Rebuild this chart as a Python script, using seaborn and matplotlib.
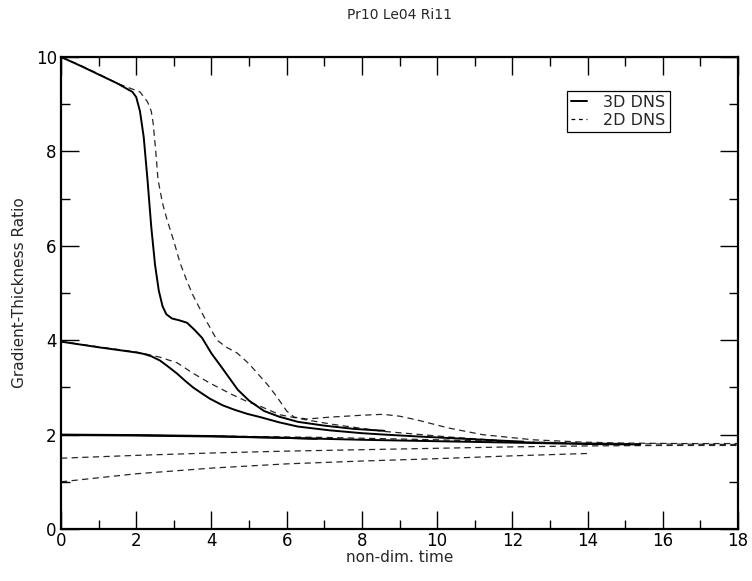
import pandas as pd
import seaborn as sns
import matplotlib
matplotlib.use('Agg')
import matplotlib.pyplot as plt
from matplotlib.lines import Line2D
from matplotlib.ticker import MultipleLocator

# 3D DNS runs (solid)
t_3d_a = [0, 0.5, 1.0, 1.5, 1.9, 2.0, 2.1, 2.2, 2.3, 2.4, 2.5, 2.6, 2.7, 2.8, 2.95, 3.15,
          3.35, 3.55, 3.75, 4.0, 4.25, 4.7, 5.0, 5.4, 5.8, 6.3, 7.0, 7.8, 8.6]
v_3d_a = [10, 9.82, 9.63, 9.44, 9.26, 9.15, 8.85, 8.3, 7.4, 6.4, 5.6, 5.05, 4.72, 4.55, 4.46, 4.42,
          4.37, 4.22, 4.05, 3.72, 3.45, 2.95, 2.72, 2.5, 2.38, 2.27, 2.19, 2.12, 2.08]
t_3d_b = [0, 1, 2, 2.2, 2.4, 2.63, 2.85, 3.09, 3.3, 3.51, 3.75, 3.96, 4.3, 4.6, 4.95, 5.3,
          5.8, 6.3, 7.15, 8.0, 8.6, 9.5, 10.5, 11.5, 12.3]
v_3d_b = [3.97, 3.85, 3.74, 3.71, 3.66, 3.57, 3.44, 3.29, 3.14, 3.0, 2.87, 2.76, 2.62, 2.53, 2.44, 2.37,
          2.26, 2.17, 2.09, 2.03, 2.0, 1.96, 1.92, 1.88, 1.85]
t_3d_c = [0, 2, 4, 6, 8, 10, 12, 14, 15.4]
v_3d_c = [2.0, 1.99, 1.97, 1.93, 1.89, 1.86, 1.83, 1.8, 1.79]
t_3d_d = [0, 2, 4, 6, 6.8]
v_3d_d = [1.99, 1.98, 1.96, 1.93, 1.91]

# 2D DNS runs (dashed)
t_2d_a = [0, 0.5, 1.0, 1.5, 2.1, 2.3, 2.4, 2.45, 2.52, 2.58, 2.7, 2.82, 3.0, 3.16, 3.35, 3.51,
          3.8, 4.15, 4.4, 4.68, 5.0, 5.21, 5.5, 5.74, 6.0, 6.2, 6.54, 7.15, 8.0, 8.56, 9.0,
          9.47, 10.3, 11.2, 12.55, 13.9, 15, 16.5, 18]
v_2d_a = [10, 9.83, 9.64, 9.44, 9.26, 9.05, 8.85, 8.6, 8.0, 7.4, 6.9, 6.55, 6.1, 5.65, 5.25, 4.95,
          4.5, 4.0, 3.85, 3.73, 3.5, 3.31, 3.05, 2.8, 2.5, 2.37, 2.33, 2.37, 2.41, 2.43, 2.39,
          2.31, 2.14, 2.0, 1.89, 1.84, 1.82, 1.81, 1.81]
t_2d_b = [0, 1, 2, 2.3, 2.63, 3.09, 3.51, 3.96, 4.57, 4.95, 5.3, 5.82, 6.54, 7.2, 8.56, 10.3,
          12.1, 13.5, 15]
v_2d_b = [3.97, 3.86, 3.75, 3.7, 3.64, 3.52, 3.3, 3.09, 2.84, 2.7, 2.6, 2.42, 2.31, 2.22, 2.07, 1.95,
          1.85, 1.82, 1.8]
t_2d_c = [0, 4, 7, 10, 12, 14, 16, 18]
v_2d_c = [2.0, 1.97, 1.94, 1.89, 1.85, 1.82, 1.8, 1.79]
t_2d_d = [0, 2, 4, 6, 8, 10, 12, 14, 16, 18]
v_2d_d = [1.5, 1.56, 1.61, 1.65, 1.68, 1.71, 1.74, 1.76, 1.77, 1.77]
t_2d_e = [0, 2, 4, 6, 8, 10, 12, 14]
v_2d_e = [1.0, 1.17, 1.29, 1.38, 1.44, 1.49, 1.55, 1.6]

runs_3d = [(t_3d_a, v_3d_a), (t_3d_b, v_3d_b), (t_3d_c, v_3d_c), (t_3d_d, v_3d_d)]
runs_2d = [(t_2d_a, v_2d_a), (t_2d_b, v_2d_b), (t_2d_c, v_2d_c), (t_2d_d, v_2d_d), (t_2d_e, v_2d_e)]

sns.set_style('ticks')
plt.rcParams['font.family'] = ['DejaVu Sans']

fig = plt.figure(figsize=(7.52, 5.81), dpi=100)
ax = fig.add_axes([0.0811, 0.0895, 0.9003, 0.8124])

for t, v in runs_2d:
    d = pd.DataFrame({'t': t, 'v': v})
    sns.lineplot(data=d, x='t', y='v', ax=ax, sort=False, color='black',
                 linewidth=0.9, dashes=False, linestyle=(0, (5, 3.5)), alpha=0.85)
for t, v in runs_3d:
    d = pd.DataFrame({'t': t, 'v': v})
    sns.lineplot(data=d, x='t', y='v', ax=ax, sort=False, color='black', linewidth=1.4)

ax.set_xlim(0, 18)
ax.set_ylim(0, 10)
ax.xaxis.set_major_locator(MultipleLocator(2))
ax.xaxis.set_minor_locator(MultipleLocator(1))
ax.yaxis.set_major_locator(MultipleLocator(2))
ax.yaxis.set_minor_locator(MultipleLocator(1))
ax.tick_params(which='both', direction='in', top=True, right=True, width=1.0,
               colors='black', labelsize=12, pad=3)
ax.tick_params(which='major', length=13)
ax.tick_params(which='minor', length=6.5)
ax.tick_params(axis='x', which='major', pad=2)
for s in ax.spines.values():
    s.set_linewidth(1.6)
    s.set_color('black')

ax.set_xlabel('non-dim. time', fontsize=11, labelpad=0)
ax.set_ylabel('Gradient-Thickness Ratio', fontsize=11, labelpad=6)
ax.set_title('Pr10 Le04 Ri11', fontsize=10, pad=27)

handles = [Line2D([], [], color='black', linewidth=1.4),
           Line2D([], [], color='black', linewidth=0.9, linestyle=(0, (3, 3)))]
leg = ax.legend(handles, ['3D DNS', '2D DNS'], loc='upper left',
                bbox_to_anchor=(0.748, 0.929), fontsize=11.5, handlelength=1.0,
                handletextpad=1.0, borderpad=0.25, labelspacing=0.2, frameon=True,
                fancybox=False, framealpha=1, edgecolor='black', borderaxespad=0)
leg.get_frame().set_linewidth(0.9)

fig.savefig('out.png', dpi=100)
